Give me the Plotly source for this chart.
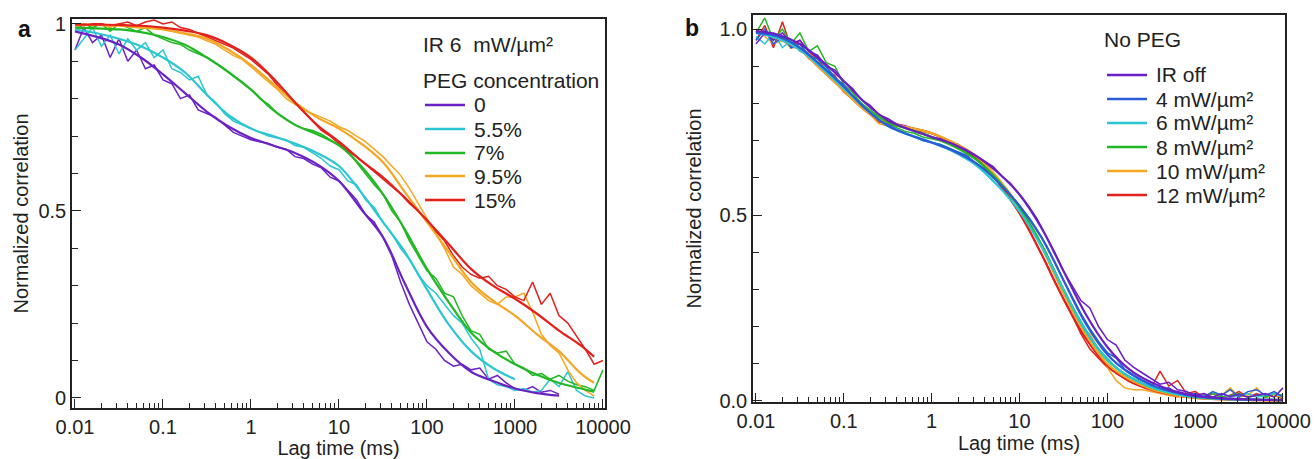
import plotly.graph_objects as go

# ---------------- data ----------------
# measured lag times (ms), 0.1-decade sampling
lag_data = [0.01, 0.0126, 0.0158, 0.02, 0.0251, 0.0316, 0.0398, 0.0501, 0.0631, 0.0794,
            0.1, 0.126, 0.158, 0.2, 0.251, 0.316, 0.398, 0.501, 0.631, 0.794,
            1, 1.26, 1.58, 2, 2.51, 3.16, 3.98, 5.01, 6.31, 7.94,
            10, 12.6, 15.8, 20, 25.1, 31.6, 39.8, 50.1, 63.1, 79.4,
            100, 126, 158, 200, 251, 316, 398, 501, 631, 794,
            1000, 1259, 1585, 1995, 2512, 3162, 3981, 5012, 6310, 7943, 10000]
# fit-curve lag times (ms)
lag_fit_a = [0.01, 0.0178, 0.0316, 0.0562, 0.1, 0.178, 0.316, 0.562, 1, 1.78, 3.16, 5.62,
             10, 17.8, 31.6, 56.2, 100, 178, 316, 562, 1000, 1778, 3162, 5623, 7943]
lag_fit_b = [0.01, 0.0178, 0.0316, 0.0562, 0.1, 0.178, 0.316, 0.562, 1, 1.78, 3.16, 5.62,
             10, 17.8, 31.6, 56.2, 100, 178, 316, 562, 1000, 1778, 3162, 5623, 10000]

# panel a: PEG concentration, IR 6 mW/um2
peg_labels = ["0", "5.5%", "7%", "9.5%", "15%"]
peg_colors = ["#6a22c4", "#2cc6d2", "#22b825", "#f5a623", "#e2211c"]

a_data_0 = [0.93, 0.99, 0.95, 0.97, 0.91, 0.96, 0.90, 0.93, 0.88, 0.89,
            0.85, 0.84, 0.80, 0.81, 0.77, 0.76, 0.75, 0.73, 0.71, 0.70,
            0.69, 0.685, 0.68, 0.67, 0.665, 0.645, 0.64, 0.625, 0.615, 0.59,
            0.58, 0.555, 0.53, 0.49, 0.47, 0.43, 0.38, 0.31, 0.25, 0.20,
            0.15, 0.13, 0.10, 0.085, 0.09, 0.075, 0.08, 0.05, 0.06, 0.04,
            0.025, 0.02, 0.03, 0.015, 0.02, 0.01]
a_data_55 = [0.93, 0.96, 0.99, 0.94, 0.97, 0.92, 0.96, 0.93, 0.95, 0.91,
             0.93, 0.88, 0.87, 0.85, 0.86, 0.81, 0.79, 0.76, 0.74, 0.73,
             0.72, 0.71, 0.70, 0.695, 0.69, 0.675, 0.67, 0.655, 0.64, 0.62,
             0.61, 0.58, 0.57, 0.53, 0.51, 0.47, 0.44, 0.40, 0.37, 0.33,
             0.30, 0.28, 0.25, 0.22, 0.20, 0.16, 0.13, 0.05, 0.035, 0.03,
             0.02, 0.025, 0.015, 0.02, 0.05, 0.03, 0.07, 0.02, 0.005, 0.0]
a_data_7 = [0.98, 1.0, 0.99, 1.0, 0.98, 1.0, 0.99, 0.98, 0.99, 0.97,
            0.96, 0.95, 0.945, 0.93, 0.92, 0.91, 0.895, 0.88, 0.86, 0.845,
            0.825, 0.80, 0.785, 0.76, 0.745, 0.73, 0.72, 0.715, 0.705, 0.69,
            0.675, 0.66, 0.63, 0.60, 0.57, 0.545, 0.50, 0.47, 0.42, 0.38,
            0.34, 0.32, 0.28, 0.27, 0.22, 0.18, 0.17, 0.13, 0.12, 0.125,
            0.09, 0.08, 0.06, 0.065, 0.05, 0.06, 0.045, 0.035, 0.03, 0.02, 0.075]
a_data_95 = [0.99, 1.0, 0.995, 1.0, 0.99, 1.0, 0.995, 0.99, 0.995, 0.99,
             0.985, 0.98, 0.975, 0.97, 0.965, 0.955, 0.945, 0.93, 0.915, 0.905,
             0.885, 0.865, 0.845, 0.825, 0.80, 0.785, 0.77, 0.76, 0.75, 0.74,
             0.725, 0.715, 0.70, 0.685, 0.665, 0.645, 0.62, 0.595, 0.56, 0.52,
             0.48, 0.44, 0.40, 0.35, 0.33, 0.30, 0.28, 0.26, 0.25, 0.27,
             0.27, 0.28, 0.23, 0.17, 0.14, 0.12, 0.075, 0.04, 0.02, 0.005]
a_data_15 = [1.0, 0.995, 1.0, 1.0, 0.995, 1.0, 1.005, 0.995, 1.005, 1.01,
             1.0, 1.005, 0.99, 0.985, 0.975, 0.965, 0.955, 0.945, 0.935, 0.92,
             0.905, 0.885, 0.865, 0.835, 0.81, 0.79, 0.765, 0.74, 0.715, 0.70,
             0.68, 0.66, 0.645, 0.625, 0.605, 0.585, 0.565, 0.545, 0.52, 0.50,
             0.475, 0.445, 0.42, 0.38, 0.35, 0.33, 0.32, 0.325, 0.30, 0.29,
             0.27, 0.26, 0.31, 0.25, 0.28, 0.22, 0.20, 0.165, 0.13, 0.09, 0.10]

a_fit_0 = [0.98, 0.965, 0.945, 0.91, 0.865, 0.815, 0.765, 0.725, 0.695, 0.675, 0.655, 0.625,
           0.58, 0.505, 0.43, 0.305, 0.19, 0.12, 0.07, 0.045, 0.025, 0.013, 0.006]
a_fit_55 = [0.985, 0.975, 0.96, 0.94, 0.91, 0.87, 0.81, 0.755, 0.72, 0.70, 0.68, 0.655,
            0.62, 0.55, 0.47, 0.39, 0.29, 0.195, 0.125, 0.08, 0.05]
a_fit_7 = [0.99, 0.988, 0.985, 0.978, 0.965, 0.944, 0.91, 0.87, 0.824, 0.77, 0.73, 0.705,
           0.675, 0.62, 0.545, 0.45, 0.345, 0.255, 0.175, 0.125, 0.09, 0.062, 0.04, 0.025, 0.016]
a_fit_95 = [0.998, 0.997, 0.995, 0.99, 0.985, 0.975, 0.96, 0.93, 0.89, 0.84, 0.79, 0.75,
            0.72, 0.68, 0.63, 0.55, 0.47, 0.39, 0.31, 0.26, 0.22, 0.17, 0.125, 0.065, 0.04]
a_fit_15 = [0.998, 0.998, 0.997, 0.995, 0.99, 0.982, 0.97, 0.945, 0.91, 0.855, 0.79, 0.73,
            0.685, 0.635, 0.59, 0.535, 0.475, 0.41, 0.345, 0.30, 0.265, 0.225, 0.18, 0.14, 0.11]

# panel b: IR power, no PEG
ir_labels = ["IR off", "4 mW/µm²", "6 mW/µm²", "8 mW/µm²", "10 mW/µm²", "12 mW/µm²"]
ir_colors = ["#6a1fc4", "#2a5bd7", "#2cc6d2", "#22b825", "#f5a623", "#e2211c"]

b_data_off = [0.96, 0.99, 0.97, 0.99, 0.96, 0.97, 0.94, 0.93, 0.90, 0.89,
              0.86, 0.84, 0.81, 0.795, 0.77, 0.76, 0.745, 0.74, 0.73, 0.72,
              0.71, 0.705, 0.695, 0.69, 0.675, 0.66, 0.645, 0.63, 0.605, 0.585,
              0.555, 0.525, 0.49, 0.445, 0.40, 0.35, 0.31, 0.27, 0.25, 0.20,
              0.165, 0.15, 0.11, 0.09, 0.075, 0.06, 0.045, 0.05, 0.03, 0.025,
              0.015, 0.02, 0.01, 0.02, 0.012, 0.018, 0.01, 0.015, 0.02, 0.01, 0.035]
b_data_4 = [0.97, 1.0, 0.96, 0.98, 0.95, 0.96, 0.93, 0.92, 0.90, 0.87,
            0.85, 0.82, 0.80, 0.78, 0.76, 0.745, 0.73, 0.72, 0.71, 0.70,
            0.695, 0.69, 0.68, 0.67, 0.66, 0.64, 0.625, 0.605, 0.58, 0.555,
            0.525, 0.495, 0.46, 0.42, 0.375, 0.325, 0.28, 0.235, 0.195, 0.16,
            0.13, 0.115, 0.085, 0.07, 0.055, 0.045, 0.03, 0.035, 0.02, 0.015,
            0.02, 0.01, 0.025, 0.015, 0.03, 0.01, 0.025, 0.03, 0.015, 0.025, 0.01]
b_data_6 = [0.98, 0.96, 0.99, 0.95, 0.97, 0.94, 0.93, 0.91, 0.895, 0.87,
            0.84, 0.815, 0.795, 0.775, 0.755, 0.74, 0.73, 0.72, 0.71, 0.70,
            0.695, 0.69, 0.68, 0.665, 0.655, 0.635, 0.615, 0.59, 0.57, 0.54,
            0.51, 0.475, 0.44, 0.395, 0.35, 0.30, 0.255, 0.215, 0.175, 0.14,
            0.115, 0.09, 0.07, 0.06, 0.045, 0.035, 0.03, 0.02, 0.015, 0.02,
            0.01, 0.015, 0.01, 0.02, 0.01, 0.015, 0.02, 0.01, 0.015, 0.02, 0.01]
b_data_8 = [0.99, 1.03, 0.97, 1.0, 0.96, 0.99, 0.94, 0.955, 0.91, 0.90,
            0.85, 0.83, 0.80, 0.78, 0.76, 0.745, 0.735, 0.725, 0.72, 0.71,
            0.705, 0.70, 0.69, 0.68, 0.665, 0.65, 0.63, 0.61, 0.58, 0.555,
            0.52, 0.485, 0.445, 0.40, 0.35, 0.30, 0.255, 0.21, 0.17, 0.14,
            0.11, 0.09, 0.07, 0.06, 0.045, 0.04, 0.03, 0.025, 0.015, 0.02,
            0.01, 0.015, 0.02, 0.01, 0.015, 0.02, 0.01, 0.015, 0.01, 0.02, 0.015]
b_data_10 = [1.0, 0.98, 0.96, 0.97, 0.95, 0.95, 0.92, 0.91, 0.88, 0.86,
             0.83, 0.81, 0.79, 0.77, 0.745, 0.74, 0.74, 0.735, 0.73, 0.725,
             0.72, 0.71, 0.70, 0.69, 0.675, 0.66, 0.64, 0.615, 0.585, 0.555,
             0.52, 0.48, 0.44, 0.39, 0.34, 0.29, 0.245, 0.20, 0.18, 0.14,
             0.09, 0.055, 0.035, 0.03, 0.03, 0.025, 0.02, 0.015, 0.01, 0.015,
             0.01, 0.02, 0.01, 0.015, 0.035, 0.01, 0.015, 0.035, 0.01, 0.015, 0.01]
b_data_12 = [0.97, 1.01, 0.95, 1.02, 0.95, 0.97, 0.94, 0.92, 0.89, 0.875,
             0.83, 0.815, 0.79, 0.77, 0.75, 0.745, 0.74, 0.735, 0.73, 0.725,
             0.72, 0.71, 0.70, 0.685, 0.67, 0.655, 0.635, 0.605, 0.575, 0.54,
             0.505, 0.465, 0.42, 0.37, 0.32, 0.275, 0.23, 0.18, 0.14, 0.115,
             0.09, 0.075, 0.06, 0.05, 0.045, 0.035, 0.08, 0.04, 0.055, 0.02,
             0.025, 0.01, 0.02, 0.01, 0.015, 0.025, 0.01, 0.02, 0.01, 0.015, 0.005]

b_fit_off = [0.995, 0.985, 0.96, 0.915, 0.86, 0.80, 0.755, 0.73, 0.71, 0.69, 0.66, 0.615,
             0.555, 0.465, 0.35, 0.235, 0.145, 0.085, 0.05, 0.027, 0.014, 0.008, 0.005, 0.003, 0.002]
b_fit_4 = [0.99, 0.98, 0.95, 0.90, 0.845, 0.785, 0.74, 0.715, 0.695, 0.672, 0.64, 0.59,
           0.525, 0.44, 0.325, 0.21, 0.125, 0.075, 0.043, 0.024, 0.012, 0.007, 0.004, 0.003, 0.002]
b_fit_6 = [0.99, 0.975, 0.945, 0.895, 0.84, 0.785, 0.74, 0.715, 0.695, 0.67, 0.635, 0.58,
           0.51, 0.415, 0.30, 0.19, 0.11, 0.065, 0.037, 0.02, 0.01, 0.006, 0.004, 0.003, 0.002]
b_fit_8 = [0.995, 0.98, 0.95, 0.90, 0.845, 0.79, 0.75, 0.73, 0.71, 0.685, 0.65, 0.595,
           0.52, 0.42, 0.30, 0.19, 0.11, 0.065, 0.037, 0.02, 0.01, 0.006, 0.004, 0.003, 0.002]
b_fit_10 = [0.995, 0.975, 0.945, 0.89, 0.835, 0.78, 0.75, 0.735, 0.72, 0.695, 0.66, 0.60,
            0.52, 0.415, 0.29, 0.18, 0.10, 0.058, 0.032, 0.017, 0.008, 0.005, 0.003, 0.002, 0.001]
b_fit_12 = [0.995, 0.975, 0.945, 0.89, 0.835, 0.78, 0.75, 0.735, 0.72, 0.692, 0.655, 0.59,
            0.505, 0.395, 0.275, 0.17, 0.095, 0.053, 0.03, 0.016, 0.008, 0.005, 0.003, 0.002, 0.001]

x_tickvals = [0.01, 0.1, 1, 10, 100, 1000, 10000]
x_ticktext = ["0.01", "0.1", "1", "10", "100", "1000", "10000"]

# ---------------- figure ----------------
FONT = "Liberation Sans, Arial, Helvetica, sans-serif"
INK = "#222222"
W, H = 1316, 459
fig = go.Figure()

a_data = [a_data_0, a_data_55, a_data_7, a_data_95, a_data_15]
a_fit = [a_fit_0, a_fit_55, a_fit_7, a_fit_95, a_fit_15]
for i in range(len(peg_labels)):
    fig.add_trace(go.Scatter(x=lag_data[:len(a_data[i])], y=a_data[i], mode="lines",
                             line=dict(color=peg_colors[i], width=1.5), showlegend=False,
                             hoverinfo="skip", xaxis="x", yaxis="y"))
for i in range(len(peg_labels)):
    fig.add_trace(go.Scatter(x=lag_fit_a[:len(a_fit[i])], y=a_fit[i], mode="lines",
                             line=dict(color=peg_colors[i], width=2.2, shape="spline", smoothing=1.0),
                             name=peg_labels[i], showlegend=False, xaxis="x", yaxis="y"))

b_data = [b_data_off, b_data_4, b_data_6, b_data_8, b_data_10, b_data_12]
b_fit = [b_fit_off, b_fit_4, b_fit_6, b_fit_8, b_fit_10, b_fit_12]
order = list(range(len(ir_labels)))[::-1]
for i in order:
    fig.add_trace(go.Scatter(x=lag_data[:len(b_data[i])], y=b_data[i], mode="lines",
                             line=dict(color=ir_colors[i], width=1.5), showlegend=False,
                             hoverinfo="skip", xaxis="x2", yaxis="y2"))
for i in order:
    fig.add_trace(go.Scatter(x=lag_fit_b[:len(b_fit[i])], y=b_fit[i], mode="lines",
                             line=dict(color=ir_colors[i], width=2.2, shape="spline", smoothing=1.0),
                             name=ir_labels[i], showlegend=False, xaxis="x2", yaxis="y2"))

def xax(domain, anchor):
    return dict(type="log", domain=domain, anchor=anchor, range=[-2.034, 4.023], automargin=False,
                tickmode="array", tickvals=x_tickvals, ticktext=x_ticktext,
                ticks="inside", ticklen=9, tickwidth=1.4, tickcolor=INK,
                minor=dict(ticks="inside", ticklen=5, tickwidth=1.2, tickcolor=INK, dtick="D1"),
                showline=True, linecolor=INK, linewidth=1.6, mirror=True,
                showgrid=False, zeroline=False,
                tickfont=dict(family=FONT, size=20, color=INK),
                title=dict(text="Lag time (ms)", font=dict(family=FONT, size=20, color=INK), standoff=2))

def yax(domain, anchor, rng, ticktext, standoff):
    return dict(domain=domain, anchor=anchor, range=rng, automargin=False,
                tickmode="array", tickvals=[0, 0.5, 1], ticktext=ticktext,
                ticks="inside", ticklen=9, tickwidth=1.4, tickcolor=INK,
                minor=dict(ticks="inside", ticklen=6, tickwidth=1.2, tickcolor=INK, dtick=0.1),
                showline=True, linecolor=INK, linewidth=1.6, mirror=True,
                showgrid=False, zeroline=False,
                tickfont=dict(family=FONT, size=20, color=INK),
                title=dict(text="Normalized correlation", font=dict(family=FONT, size=20, color=INK),
                           standoff=standoff))

# legends drawn as line samples + text (positions in pixels of the 1316x459 page)
def px(x):
    return x / W

def py(y):
    return 1 - y / H

def label(text, x, y, size=21, anchor="left", bold=False, color=INK):
    return dict(text=("<b>%s</b>" % text) if bold else text, x=px(x), y=py(y),
                xref="paper", yref="paper", xanchor=anchor, yanchor="middle",
                showarrow=False, font=dict(family=FONT, size=size, color=color))

shapes = []
annotations = [
    label("a", 24, 29, size=23, anchor="center", bold=True, color="#111"),
    label("b", 692, 28, size=23, anchor="center", bold=True, color="#111"),
    label("IR 6  mW/µm²", 421, 45),
    label("PEG concentration", 421, 80),
    label("No PEG", 1102, 39),
]
rows_a = [105, 129, 153, 176, 200]
for lab, col, yr in zip(peg_labels, peg_colors, rows_a):
    shapes.append(dict(type="line", xref="paper", yref="paper", x0=px(425), x1=px(465),
                       y0=py(yr), y1=py(yr), line=dict(color=col, width=2.4)))
    annotations.append(label(lab, 472, yr))
rows_b = [75, 99, 123, 147, 171, 195]
for lab, col, yr in zip(ir_labels, ir_colors, rows_b):
    shapes.append(dict(type="line", xref="paper", yref="paper", x0=px(1107), x1=px(1147),
                       y0=py(yr), y1=py(yr), line=dict(color=col, width=2.4)))
    annotations.append(label(lab, 1154, yr))

fig.update_layout(
    width=W, height=H, margin=dict(l=0, r=0, t=0, b=0, autoexpand=False),
    paper_bgcolor="white", plot_bgcolor="white", showlegend=False,
    font=dict(family=FONT, size=20, color=INK),
    xaxis=xax([72 / W, 605 / W], "y"),
    yaxis=yax([1 - 408 / H, 1 - 19 / H], "x", [-0.027, 1.013], ["0", "0.5", "1"], 4),
    xaxis2=xax([753 / W, 1285 / W], "y2"),
    yaxis2=yax([1 - 402 / H, 1 - 15 / H], "x2", [-0.003, 1.038], ["0.0", "0.5", "1.0"], 12),
    shapes=shapes,
    annotations=annotations,
)

# remove the browser's default page margin so the figure sits at the window's top-left
fig.write_html("out.html", config={"displayModeBar": False},
               post_script="document.body.style.margin='0px';document.body.style.overflow='hidden';")
